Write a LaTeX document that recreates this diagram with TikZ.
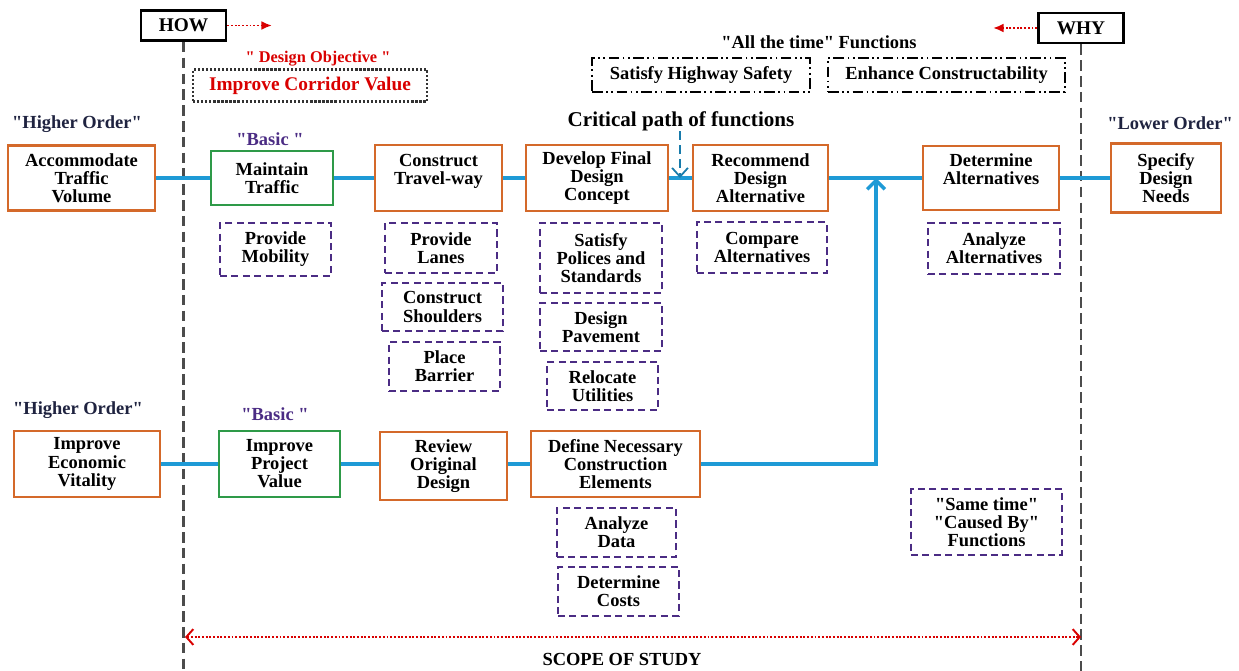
\documentclass[tikz,border=0pt]{standalone}
\usepackage{fontspec}
\setmainfont{Liberation Serif}
\usetikzlibrary{arrows.meta}
\newcommand{\qt}{\textquotedbl}

\begin{document}
\begin{tikzpicture}[x=0.02cm, y=-0.02cm,
    every node/.style={font=\bfseries\fontsize{10.5}{10.3}\selectfont, align=center, inner sep=0pt},
    fbox/.style={draw=orangeBorder, line width=1.5pt},
    basicbox/.style={draw=greenBorder, line width=1.5pt},
    causebox/.style={draw=purpleBorder, line width=1.2pt, dash pattern=on 4pt off 2.5pt},
    alltime/.style={draw=black, line width=0.9pt, dash pattern=on 6pt off 2pt on 1pt off 2pt on 1pt off 2pt},
    sidebox/.style={draw=black, line width=1.6pt, minimum width=1.7cm, minimum height=0.6cm},
    link/.style={draw=lineBlue, line width=2pt},
    scopeline/.style={draw=black!70, line width=1.3pt, dash pattern=on 6pt off 3pt},
    redarrow/.style={draw=red!85!black, line width=1.1pt, densely dotted}]
    % Define colours
    \definecolor{orangeBorder}{HTML}{D4692A}
    \definecolor{greenBorder}{HTML}{2E9A48}
    \definecolor{purpleBorder}{HTML}{4B2C84}
    \definecolor{lineBlue}{HTML}{1E9AD6}
    \definecolor{labelDark}{HTML}{1F2340}

    \useasboundingbox (0,0) rectangle (1239,671);

    % HOW and WHY
    \node[sidebox] (how) at (183.5,25.5) {\fontsize{11}{11}\selectfont HOW};
    \node[sidebox] (why) at (1081,28) {\fontsize{11}{11}\selectfont WHY};
    \coordinate (howEnd) at (272,25.5);
    \coordinate (whyEnd) at (993,28);
    \draw[redarrow, -{Latex[length=6pt, width=5pt]}] (how.east) -- (howEnd);
    \draw[redarrow, -{Latex[length=6pt, width=5pt]}] (why.west) -- (whyEnd);
    \coordinate (howBot) at (183.5,671);
    \coordinate (whyBot) at (1081,671);
    \draw[scopeline] (how.south) -- (howBot);
    \draw[scopeline] (why.south) -- (whyBot);

    % Design objective
    \node[text=red!85!black, font=\bfseries\fontsize{9.3}{9.3}\selectfont] (objTitle) at (318,59) {\qt{} Design Objective \qt};
    \node[draw=black!80, line width=1.3pt, densely dotted, minimum width=4.68cm, minimum height=0.64cm,
          text=red!85!black, font=\bfseries\fontsize{11}{11}\selectfont] (icv) at (310,85.5) {Improve Corridor Value};

    % All the time functions
    \node (allTitle) at (819,42) {\qt All the time\qt{} Functions};
    \node[alltime, minimum width=4.36cm, minimum height=0.68cm] (shs) at (701,75) {Satisfy Highway Safety};
    \node[alltime, minimum width=4.74cm, minimum height=0.68cm] (ecb) at (946.5,75) {Enhance Constructability};

    % Order labels
    \node[text=labelDark] (hoTop) at (77,124) {\qt Higher Order\qt};
    \node[text=purpleBorder] (basicTop) at (270,139) {\qt Basic \qt};
    \node[text=labelDark] (loTop) at (1170,123) {\qt Lower Order\qt};
    \node[text=labelDark] (hoBot) at (78,410) {\qt Higher Order\qt};
    \node[text=purpleBorder] (basicBot) at (275,414) {\qt Basic \qt};

    % Critical path
    \node[font=\bfseries\fontsize{12}{12}\selectfont] (cp) at (681,121) {Critical path of functions};

    % Upper row of functions
    \node[fbox, minimum width=2.94cm, minimum height=1.30cm] (acc) at (81.5,178) {Accommodate\\Traffic\\Volume};
    \node[basicbox, minimum width=2.44cm, minimum height=1.08cm] (mnt) at (272,178) {Maintain\\Traffic};
    \node[fbox, minimum width=2.54cm, minimum height=1.32cm] (ctw) at (438.5,178) {Construct\\Travel-way\\\mbox{}};
    \node[fbox, minimum width=2.84cm, minimum height=1.32cm] (dfd) at (597,178) {Develop Final\\Design\\Concept};
    \node[fbox, minimum width=2.70cm, minimum height=1.32cm] (rda) at (760.5,178) {Recommend\\Design\\Alternative};
    \node[fbox, minimum width=2.72cm, minimum height=1.28cm] (dta) at (991,178) {Determine\\Alternatives\\\mbox{}};
    \node[fbox, minimum width=2.20cm, minimum height=1.38cm] (sdn) at (1166,178) {Specify\\Design\\Needs};

    % Same time functions, upper row
    \node[causebox, minimum width=2.22cm, minimum height=1.06cm] (pmo) at (275.5,249.5) {Provide\\Mobility};
    \node[causebox, minimum width=2.24cm, minimum height=1.00cm] (pla) at (441,248) {Provide\\Lanes};
    \node[causebox, minimum width=2.42cm, minimum height=0.96cm] (csh) at (442.5,307) {Construct\\Shoulders};
    \node[causebox, minimum width=2.22cm, minimum height=0.98cm] (pba) at (444.5,366.5) {Place\\Barrier};
    \node[causebox, minimum width=2.44cm, minimum height=1.40cm] (sps) at (601,258) {Satisfy\\Polices and\\Standards};
    \node[causebox, minimum width=2.44cm, minimum height=0.96cm] (dpa) at (601,327) {Design\\Pavement};
    \node[causebox, minimum width=2.22cm, minimum height=0.96cm] (rut) at (602.5,386) {Relocate\\Utilities};
    \node[causebox, minimum width=2.60cm, minimum height=1.02cm] (cal) at (762,247.5) {Compare\\Alternatives};
    \node[causebox, minimum width=2.64cm, minimum height=1.02cm] (aal) at (994,248.5) {Analyze\\Alternatives};

    % Lower row of functions
    \node[fbox, minimum width=2.92cm, minimum height=1.32cm] (iev) at (87,464) {Improve\\Economic\\Vitality};
    \node[basicbox, minimum width=2.42cm, minimum height=1.32cm] (ipv) at (279.5,464) {Improve\\Project\\Value};
    \node[fbox, minimum width=2.54cm, minimum height=1.36cm] (rod) at (443.5,466) {Review\\Original\\Design};
    \node[fbox, minimum width=3.38cm, minimum height=1.32cm] (dnc) at (615.5,464) {Define Necessary\\Construction\\Elements};
    \node[causebox, minimum width=2.38cm, minimum height=0.98cm] (ada) at (616.5,532.5) {Analyze\\Data};
    \node[causebox, minimum width=2.42cm, minimum height=0.98cm] (dco) at (618.5,591.5) {Determine\\Costs};
    \node[causebox, minimum width=3.02cm, minimum height=1.32cm] (sct) at (986.5,522) {\qt Same time\qt\\\qt Caused By\qt\\Functions};

    % Connectors
    \draw[link] (acc) -- (mnt);
    \draw[link] (mnt) -- (ctw);
    \draw[link] (ctw) -- (dfd);
    \draw[link] (dfd) -- (rda);
    \draw[link] (rda) -- (dta);
    \draw[link] (dta) -- (sdn);
    \draw[link] (iev.east) -- (ipv.west);
    \draw[link] (ipv.east) -- (ipv.east -| rod.west);
    \draw[link] (rod.east |- dnc.west) -- (dnc.west);
    \coordinate (merge) at (876,178);
    \draw[link, -{Straight Barb[length=5pt, width=10pt]}] (dnc.east) -| (merge);
    \coordinate (cpTip) at (680,178);
    \draw[draw=lineBlue!80!black, line width=1pt, dash pattern=on 5pt off 3pt,
          -{Straight Barb[length=5pt, width=9pt]}] (cp.south -| cpTip) -- (cpTip);

    % Scope of study
    \coordinate (scopeL) at (185,637);
    \coordinate (scopeR) at (1081,637);
    \draw[redarrow, {Straight Barb[length=4pt, width=9pt]}-{Straight Barb[length=4pt, width=9pt]}] (scopeL) -- (scopeR);
    \node (scope) at (622,659) {SCOPE OF STUDY};

\end{tikzpicture}
\end{document}
